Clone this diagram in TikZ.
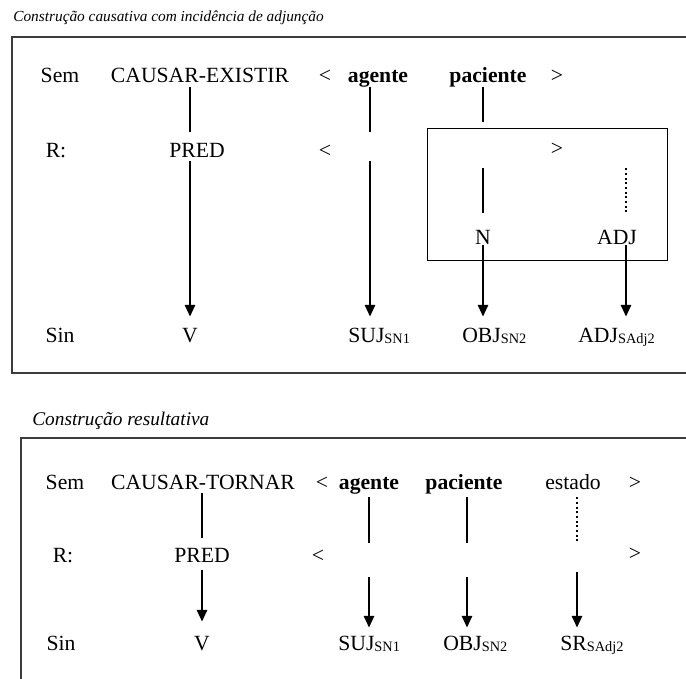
\documentclass[tikz,border=0pt]{standalone}
\usepackage{fontspec}
\setmainfont{Liberation Serif}
\usetikzlibrary{arrows.meta}

% Small lowered tag after a function name
\newcommand{\subtag}[1]{\raisebox{-0.8pt}{\fontsize{8.6}{10}\selectfont #1}}

\begin{document}
\begin{tikzpicture}[x=0.6pt, y=-0.6pt, font=\fontsize{13}{15.6}\selectfont,
		lbl/.style={inner sep=0pt, text height=8.6pt, text depth=0pt},
		stem/.style={line width=1.4pt, shorten <=3pt, shorten >=6.5pt},
		dots/.style={stem, line width=1.6pt, dash pattern=on 1.3pt off 1.5pt},
		down/.style={line width=1.4pt, shorten <=2pt, shorten >=6.5pt, -{Triangle[width=6pt, length=7pt]}},
		frame/.style={draw=frameGray, line width=0.8pt},
		heading/.style={anchor=base west, inner sep=0pt}]
		
		% Define colors
		
		\definecolor{frameGray}{RGB}{60,60,60}
		
		\useasboundingbox (0,0) rectangle (686,679);
		
		% Causative construction
		
		\node[heading, font=\fontsize{9.2}{11}\selectfont\itshape] (title1) at (13,22) {Construção causativa com incidência de adjunção};
		
		\draw[frame] (686,37) -| (12,373) -- (686,373);
		
		\node[lbl] (sem1) at (60,75) {Sem};
		\node[lbl] (cx1) at (200,75) {CAUSAR-EXISTIR};
		\node[lbl] (lt1) at (325,75) {<};
		\node[lbl] (ag1) at (378,75) {\textbf{agente}};
		\node[lbl] (pac1) at (488,75) {\textbf{paciente}};
		\node[lbl] (gt1) at (557,75) {>};
		
		\node[lbl] (r1) at (56,150) {R:};
		\node[lbl] (pred1) at (197,150) {PRED};
		\node[lbl] (lt1r) at (325,150) {<};
		\node[lbl] (ag1r) at (370,150) {};
		\node[lbl] (n1r) at (483,150) {};
		\node[lbl] (gt1r) at (557,148) {>};
		\node[lbl] (adj1r) at (626,150) {};
		
		% Box round the adjunct part
		
		\node[draw, line width=0.6pt, inner sep=0pt, minimum width=144pt, minimum height=79.2pt] (inbox) at (547,195) {};
		
		\node[lbl] (n1) at (483,237) {N};
		\node[lbl] (adj1) at (617,237) {ADJ};
		
		\node[lbl] (sin1) at (60,335) {Sin};
		\node[lbl] (v1) at (190,335) {V};
		\node[lbl, anchor=west] (suj1) at (348,335) {SUJ\subtag{SN1}};
		\node[lbl, anchor=west] (obj1) at (462,335) {OBJ\subtag{SN2}};
		\node[lbl, anchor=west] (adjs1) at (578,335) {ADJ\subtag{SAdj2}};
		
		\draw[stem] (cx1.south -| v1) -- (pred1.north -| v1);
		\draw[down] (pred1.south -| v1) -- (v1);
		\draw[stem] (ag1.south -| ag1r) -- (ag1r);
		\draw[down] (ag1r) -- (ag1r |- suj1.north);
		\draw[stem, shorten >=3.6pt] (pac1.south -| n1) -- (n1 |- inbox.north);
		\draw[stem, shorten <=6.5pt, shorten >=10pt] (n1r) -- (n1);
		\draw[dots, shorten <=6.5pt, shorten >=10pt] (adj1r) -- (adj1r |- adj1.north);
		\draw[down, shorten <=0.5pt] (n1) -- (n1 |- obj1.north);
		\draw[down, shorten <=0.5pt] (adj1.south -| adj1r) -- (adj1r |- adjs1.north);
		
		% Resultative construction
		
		\node[heading, font=\fontsize{11.6}{14}\selectfont\itshape] (title2) at (32,426) {Construção resultativa};
		
		\draw[frame] (686,438) -| (21,679);
		
		\begin{scope}[stem/.append style={shorten <=4.7pt, shorten >=2.9pt},
				down/.append style={shorten <=9pt, shorten >=4.7pt}]
			
			\node[lbl] (sem2) at (65,482) {Sem};
			\node[lbl] (cx2) at (203,482) {CAUSAR-TORNAR};
			\node[lbl] (lt2) at (322,482) {<};
			\node[lbl] (ag2) at (369,482) {\textbf{agente}};
			\node[lbl] (pac2) at (464,482) {\textbf{paciente}};
			\node[lbl] (est2) at (573,482) {estado};
			\node[lbl] (gt2) at (635,482) {>};
			
			\node[lbl] (r2) at (63,555) {R:};
			\node[lbl] (pred2) at (202,555) {PRED};
			\node[lbl] (lt2r) at (318,555) {<};
			\node[lbl] (ag2r) at (369,555) {};
			\node[lbl] (pac2r) at (467,555) {};
			\node[lbl] (est2r) at (577,555) {};
			\node[lbl] (gt2r) at (635,553) {>};
			
			\node[lbl] (sin2) at (61,643) {Sin};
			\node[lbl] (v2) at (202,643) {V};
			\node[lbl, anchor=west] (suj2) at (338,643) {SUJ\subtag{SN1}};
			\node[lbl, anchor=west] (obj2) at (443,643) {OBJ\subtag{SN2}};
			\node[lbl, anchor=west] (sr2) at (560,643) {SR\subtag{SAdj2}};
			
			\draw[stem, shorten <=2.3pt, shorten >=5.9pt] (cx2.south -| pred2) -- (pred2);
			\draw[down, shorten <=4.7pt, shorten >=8.3pt] (pred2) -- (v2);
			\draw[stem] (ag2) -- (ag2r);
			\draw[down] (ag2r) -- (ag2r |- suj2.north);
			\draw[stem] (pac2.south -| pac2r) -- (pac2r);
			\draw[down] (pac2r) -- (pac2r |- obj2.north);
			\draw[dots] (est2.south -| est2r) -- (est2r);
			\draw[down, shorten <=6pt] (est2r) -- (est2r |- sr2.north);
			
		\end{scope}
		
	\end{tikzpicture}
\end{document}
